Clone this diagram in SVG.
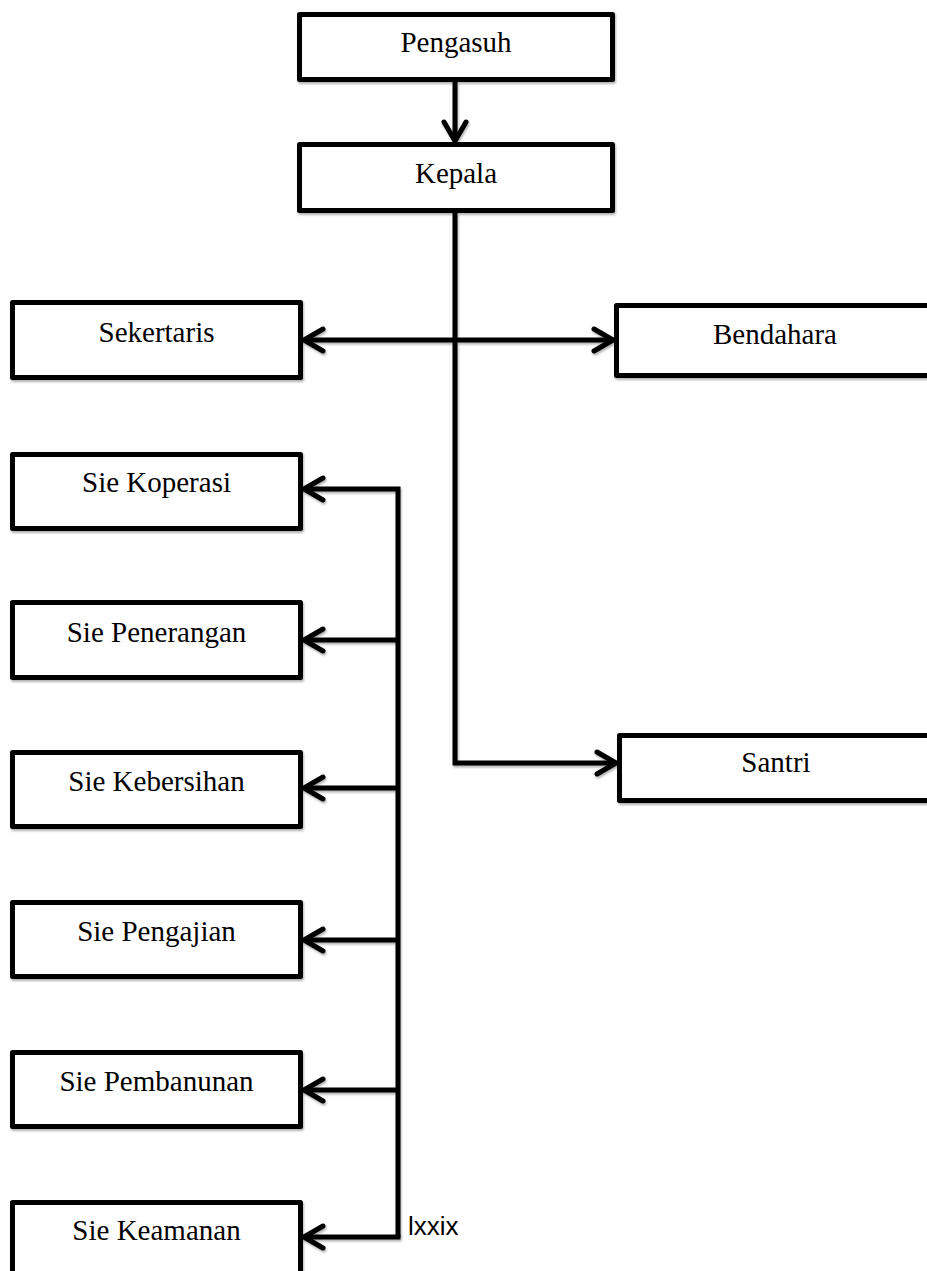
<svg xmlns="http://www.w3.org/2000/svg" width="927" height="1271" viewBox="0 0 927 1271">
  <style>
    .box { fill: #ffffff; stroke: #000000; stroke-width: 5; stroke-linejoin: round; filter: url(#sh); }
    .lbl { font-family: "Liberation Serif", "Times New Roman", serif; font-size: 29px; fill: #000000; text-anchor: middle; }
    .con { fill: none; stroke: #000000; stroke-width: 5; stroke-linejoin: miter; }
    .note { font-family: "Liberation Sans", Arial, sans-serif; font-size: 26px; fill: #000000; }
  </style>
  <defs>
    <filter id="sh" x="-5%" y="-20%" width="110%" height="140%">
      <feDropShadow dx="1" dy="2" stdDeviation="1.2" flood-color="#000000" flood-opacity="0.3"/>
    </filter>
    <marker id="arr" markerUnits="userSpaceOnUse" viewBox="-24 -14 28 28" refX="0" refY="0" markerWidth="28" markerHeight="28" orient="auto-start-reverse" overflow="visible">
      <path d="M-19,-11 L0,0 L-19,11" fill="none" stroke="#000000" stroke-width="5" stroke-linecap="round" stroke-linejoin="round"/>
    </marker>
  </defs>

  <g id="connectors" filter="url(#sh)">
    <path class="con" d="M455,82 V141" marker-end="url(#arr)"/>
    <path class="con" d="M455,213 V763 H616" marker-end="url(#arr)"/>
    <path class="con" d="M304,340 H613" marker-start="url(#arr)" marker-end="url(#arr)"/>
    <path class="con" d="M398,1237 V489 H304" marker-end="url(#arr)"/>
    <path class="con" d="M398,640 H304" marker-end="url(#arr)"/>
    <path class="con" d="M398,788 H304" marker-end="url(#arr)"/>
    <path class="con" d="M398,940 H304" marker-end="url(#arr)"/>
    <path class="con" d="M398,1090 H304" marker-end="url(#arr)"/>
    <path class="con" d="M400.5,1237 H304" marker-end="url(#arr)"/>
  </g>

  <g id="pengasuh">
    <rect class="box" x="299.5" y="14.5" width="313" height="65"/>
    <text class="lbl" x="456" y="52">Pengasuh</text>
  </g>
  <g id="kepala">
    <rect class="box" x="299.5" y="144.5" width="313" height="66"/>
    <text class="lbl" x="456" y="183">Kepala</text>
  </g>
  <g id="sekertaris">
    <rect class="box" x="12.5" y="302.5" width="288" height="75"/>
    <text class="lbl" x="156.5" y="342">Sekertaris</text>
  </g>
  <g id="bendahara">
    <rect class="box" x="616.5" y="305.5" width="330" height="70"/>
    <text class="lbl" x="775" y="344">Bendahara</text>
  </g>
  <g id="santri">
    <rect class="box" x="619.5" y="735.5" width="330" height="65"/>
    <text class="lbl" x="776" y="772">Santri</text>
  </g>
  <g id="sie-koperasi">
    <rect class="box" x="12.5" y="454.5" width="288" height="74"/>
    <text class="lbl" x="156.5" y="492">Sie Koperasi</text>
  </g>
  <g id="sie-penerangan">
    <rect class="box" x="12.5" y="602.5" width="288" height="75"/>
    <text class="lbl" x="156.5" y="642">Sie Penerangan</text>
  </g>
  <g id="sie-kebersihan">
    <rect class="box" x="12.5" y="752.5" width="288" height="74"/>
    <text class="lbl" x="156.5" y="791">Sie Kebersihan</text>
  </g>
  <g id="sie-pengajian">
    <rect class="box" x="12.5" y="902.5" width="288" height="74"/>
    <text class="lbl" x="156.5" y="941">Sie Pengajian</text>
  </g>
  <g id="sie-pembanunan">
    <rect class="box" x="12.5" y="1052.5" width="288" height="74"/>
    <text class="lbl" x="156.5" y="1091">Sie Pembanunan</text>
  </g>
  <g id="sie-keamanan">
    <rect class="box" x="12.5" y="1202.5" width="288" height="80"/>
    <text class="lbl" x="156.5" y="1240">Sie Keamanan</text>
  </g>

  <text class="note" x="408" y="1235">lxxix</text>
</svg>
